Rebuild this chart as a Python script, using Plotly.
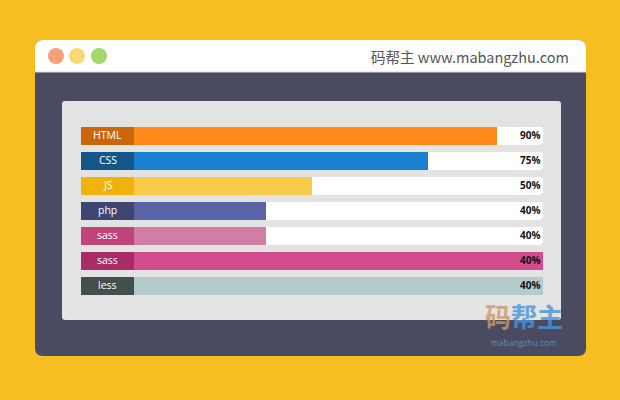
import plotly.graph_objects as go

# ---- data ----
skills = ["HTML", "CSS", "JS", "php", "sass", "sass", "less"]
fill_values = [90, 75, 50, 40, 40, 100, 100]
pct_labels = ["90%", "75%", "50%", "40%", "40%", "40%", "40%"]
label_colors = ["#CC660A", "#155689", "#F2B20C", "#3E4571", "#C0447B", "#A92B68", "#434F4D"]
fill_colors = ["#FF8A19", "#1A80D0", "#F9CB4B", "#5A64A5", "#D17EA7", "#D34C8E", "#B3CBCC"]

W, H = 620, 400
TRACK_MAX = 100
LABEL_W = 53 / 462 * 100  # label box width in axis units

rows = list(range(len(skills)))

def px(x, y):
    return f"{x / W:.5f},{1 - y / H:.5f}"

def rrect(x0, y0, x1, y1, r, tl=True, tr=True, br=True, bl=True):
    p = []
    p.append("M " + px(x0 + (r if tl else 0), y0))
    p.append("L " + px(x1 - (r if tr else 0), y0))
    if tr:
        p.append("Q " + px(x1, y0) + " " + px(x1, y0 + r))
    p.append("L " + px(x1, y1 - (r if br else 0)))
    if br:
        p.append("Q " + px(x1, y1) + " " + px(x1 - r, y1))
    p.append("L " + px(x0 + (r if bl else 0), y1))
    if bl:
        p.append("Q " + px(x0, y1) + " " + px(x0, y1 - r))
    p.append("L " + px(x0, y0 + (r if tl else 0)))
    if tl:
        p.append("Q " + px(x0, y0) + " " + px(x0 + r, y0))
    p.append("Z")
    return " ".join(p)

shapes = [
    dict(type="path", xref="paper", yref="paper", path=rrect(35, 40, 586, 356, 8),
         fillcolor="#4A4B61", line=dict(width=0), layer="below"),
    dict(type="path", xref="paper", yref="paper", path=rrect(35, 40, 586, 72, 8, br=False, bl=False),
         fillcolor="#FFFFFF", line=dict(width=0), layer="below"),
    dict(type="line", xref="paper", yref="paper", x0=35 / W, x1=586 / W, y0=1 - 72 / H, y1=1 - 72 / H,
         line=dict(color="#D8D8D8", width=1), layer="below"),
    dict(type="path", xref="paper", yref="paper", path=rrect(62, 101, 561, 320, 3),
         fillcolor="#E3E3E3", line=dict(width=0), layer="below"),
]
for cx, col in [(56, "#F6A07A"), (77, "#F8D779"), (99, "#A4D86B")]:
    shapes.append(dict(type="circle", xref="paper", yref="paper",
                       x0=(cx - 8) / W, x1=(cx + 8) / W, y0=1 - 64 / H, y1=1 - 48 / H,
                       fillcolor=col, line=dict(width=0), layer="below"))

fig = go.Figure()

# white track
fig.add_trace(go.Bar(
    y=rows, x=[TRACK_MAX] * len(rows), orientation="h", width=0.72,
    marker=dict(color="#FFFFFF", cornerradius=3, line=dict(width=0)),
    hoverinfo="skip", showlegend=False))

# coloured fill
fig.add_trace(go.Bar(
    y=rows, x=[v - LABEL_W / 2 for v in fill_values], base=[LABEL_W / 2] * len(rows),
    orientation="h", width=0.72,
    marker=dict(color=fill_colors, line=dict(width=0)),
    hoverinfo="skip", showlegend=False))

# label box
fig.add_trace(go.Bar(
    y=rows, x=[LABEL_W] * len(rows), orientation="h", width=0.72,
    marker=dict(color=label_colors, cornerradius=3, line=dict(width=0)),
    hoverinfo="skip", showlegend=False))

annotations = []
for r, name, pct in zip(rows, skills, pct_labels):
    annotations.append(dict(xref="x", yref="y", x=LABEL_W / 2, y=r, text=name, showarrow=False,
                            xanchor="center", yanchor="middle",
                            font=dict(color="#FFFFFF", size=10.5, family="Open Sans")))
    annotations.append(dict(xref="x", yref="y", x=TRACK_MAX, y=r, text=pct, showarrow=False,
                            xanchor="right", yanchor="middle", xshift=-1,
                            font=dict(color="#111111", size=10, family="Open Sans", weight="bold")))

annotations += [
    dict(xref="paper", yref="paper", x=571 / W, y=1 - 56 / H, xanchor="right", yanchor="middle",
         text="码帮主 www.mabangzhu.com", showarrow=False,
         font=dict(family="Noto Sans CJK SC", size=14.5, color="#555555")),
    dict(xref="paper", yref="paper", x=524 / W, y=1 - 315 / H, xanchor="center", yanchor="middle",
         text="<span style='color:#C99A6A'>码</span>帮主", showarrow=False, opacity=0.8,
         font=dict(family="Noto Sans CJK SC", size=26, color="#4A93D8", weight="bold")),
    dict(xref="paper", yref="paper", x=524 / W, y=1 - 342 / H, xanchor="center", yanchor="middle",
         text="mabangzhu.com", showarrow=False, opacity=0.8,
         font=dict(family="Open Sans", size=8.5, color="#5C9BD8")),
]

fig.update_layout(
    width=W, height=H, margin=dict(l=0, r=0, t=0, b=0),
    paper_bgcolor="#F7BE22", plot_bgcolor="rgba(0,0,0,0)",
    barmode="overlay", bargap=0,
    shapes=shapes, annotations=annotations,
    xaxis=dict(domain=[81 / W, 543 / W], range=[0, TRACK_MAX], visible=False, fixedrange=True),
    yaxis=dict(domain=[1 - 297.5 / H, 1 - 122.5 / H], range=[len(rows) - 0.5, -0.5],
               visible=False, fixedrange=True),
)

fig.write_html("out.html", config={"displayModeBar": False},
               post_script="document.body.style.margin='0';document.body.style.background='#F7BE22';")
